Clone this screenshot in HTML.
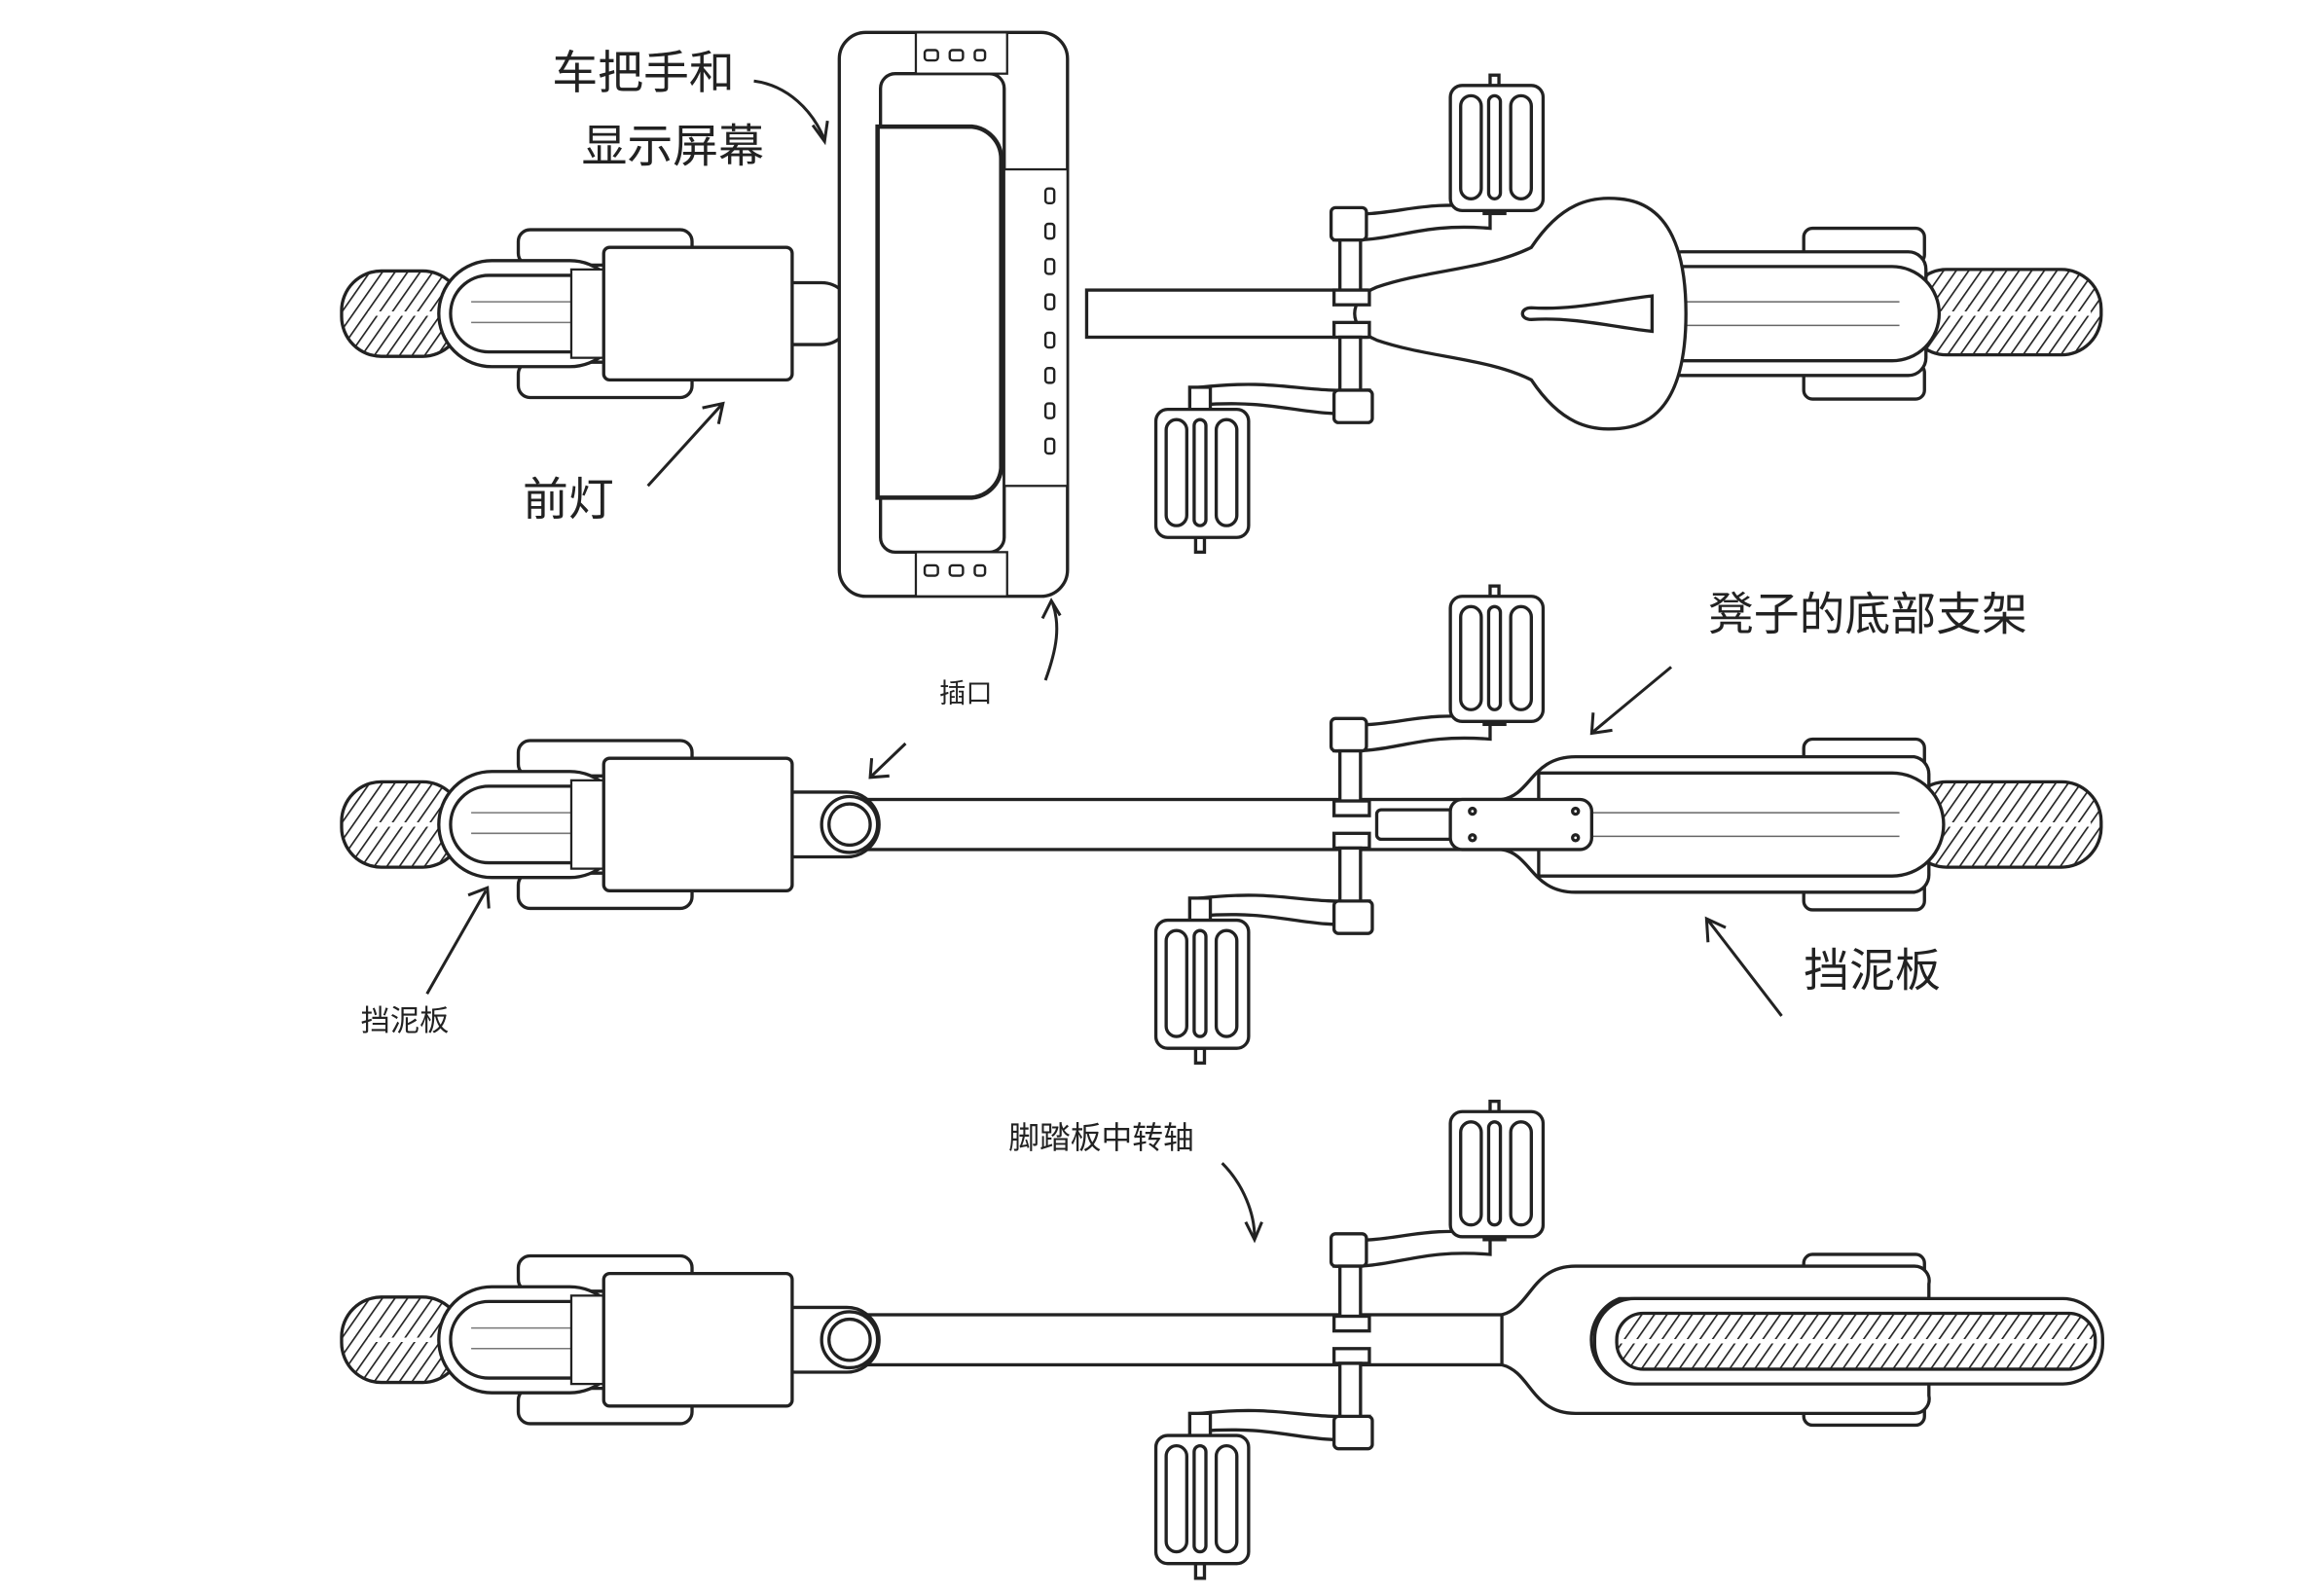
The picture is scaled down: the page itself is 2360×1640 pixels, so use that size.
<!DOCTYPE html>
<html><head><meta charset="utf-8"><style>
html,body{margin:0;padding:0;background:#fff;}
svg{display:block;}
text{font-family:"Liberation Sans","WenQuanYi Zen Hei","Noto Sans CJK SC",sans-serif;fill:#222;}
</style></head><body>
<svg width="2360" height="1640" viewBox="0 0 1560 1084" xmlns="http://www.w3.org/2000/svg">
<defs>
<pattern id="h" width="7" height="7" patternUnits="userSpaceOnUse" patternTransform="rotate(35)">
<rect width="7" height="7" fill="#fff"/><line x1="0" y1="0" x2="0" y2="7" stroke="#222" stroke-width="2.2"/>
</pattern>
<g id="front" fill="#fff" stroke="#222" stroke-width="2.2">
<rect x="232" y="-29" width="82" height="58" rx="27" fill="url(#h)"/>
<line x1="250" y1="0" x2="305" y2="0" stroke="#fff" stroke-width="3"/>
<rect x="352" y="-57" width="118" height="24" rx="8"/>
<rect x="352" y="33" width="118" height="24" rx="8"/>
<rect x="298" y="-36" width="125" height="72" rx="36"/>
<rect x="306" y="-26" width="110" height="52" rx="26"/>
<line x1="320" y1="-8" x2="410" y2="-8" stroke-width="1" stroke="#777"/>
<line x1="320" y1="6" x2="410" y2="6" stroke-width="1" stroke="#777"/>
<rect x="388" y="-30" width="22" height="60" stroke-width="1.5"/>
<rect x="410" y="-45" width="128" height="90" rx="4"/>
</g>
<g id="crank" fill="#fff" stroke="#222" stroke-width="2.2">
<path d="M906 -68 C950 -65 960 -78 1012 -72 L1012 -58 C960 -62 950 -48 906 -50 Z"/>
<rect x="904" y="-72" width="24" height="22" rx="3"/>
<rect x="910" y="-50" width="14" height="38"/>
<rect x="906" y="-16" width="24" height="10"/>
<rect x="906" y="6" width="24" height="10"/>
<rect x="910" y="16" width="14" height="40"/>
<path d="M930 52 C880 54 870 44 815 50 L815 62 C870 58 880 70 930 68 Z"/>
<rect x="906" y="52" width="26" height="22" rx="3"/>
<rect x="1008" y="-82" width="14" height="14"/>
<rect x="1012" y="-162" width="6" height="10"/>
<rect x="985" y="-155" width="63" height="85" rx="8"/>
<rect x="992" y="-148" width="14" height="70" rx="7"/>
<rect x="1011" y="-148" width="8" height="70" rx="4"/>
<rect x="1026" y="-148" width="14" height="70" rx="7"/>
<rect x="808" y="50" width="14" height="16"/>
<rect x="812" y="152" width="6" height="10"/>
<rect x="785" y="65" width="63" height="87" rx="8"/>
<rect x="792" y="72" width="14" height="72" rx="7"/>
<rect x="811" y="72" width="8" height="72" rx="4"/>
<rect x="826" y="72" width="14" height="72" rx="7"/>
</g>
</defs>

<!-- BIKE 1 -->
<g transform="translate(0,213)" fill="#fff" stroke="#222" stroke-width="2.2">
<rect x="1295" y="-30" width="132" height="58" rx="27" fill="url(#h)"/>
<line x1="1300" y1="0" x2="1420" y2="0" stroke="#fff" stroke-width="3"/>
<rect x="738" y="-16" width="190" height="32"/>
<rect x="1225" y="-58" width="82" height="24" rx="6"/>
<rect x="1225" y="34" width="82" height="24" rx="6"/>
<rect x="1130" y="-42" width="178" height="84" rx="12"/>
<path d="M1135 -32 H1285 A24 24 0 0 1 1285 32 H1135 Z"/>
<line x1="1140" y1="-8" x2="1290" y2="-8" stroke-width="1" stroke="#666"/>
<line x1="1140" y1="8" x2="1290" y2="8" stroke-width="1" stroke="#666"/>
<path d="M935 -18 C970 -30 1010 -30 1040 -45 C1060 -75 1080 -80 1100 -78 C1135 -75 1145 -40 1145 0 C1145 40 1135 75 1100 78 C1080 80 1060 75 1040 45 C1010 30 970 30 935 18 C915 10 915 -10 935 -18 Z"/>
<path d="M1040 -4 C1070 -2 1100 -10 1122 -12 L1122 12 C1100 10 1070 2 1040 4 C1032 4 1032 -4 1040 -4 Z"/>
<rect x="518" y="-21" width="60" height="42" rx="20"/>
</g>
<use href="#front" transform="translate(0,213)"/>
<use href="#crank" transform="translate(0,213)"/>
<g fill="#fff" stroke="#222" stroke-width="2.2">
<rect x="570" y="22" width="155" height="383" rx="18"/>
<rect x="598" y="50" width="84" height="325" rx="10"/>
<rect x="622" y="22" width="62" height="28" stroke-width="1.5"/>
<rect x="622" y="375" width="62" height="30" stroke-width="1.5"/>
<rect x="682" y="115" width="43" height="215" stroke-width="1.5"/>
<path d="M596 86 H660 A22 22 0 0 1 680 108 V318 A22 22 0 0 1 660 338 H596 Z" stroke-width="3"/>
</g>
<g fill="none" stroke="#222" stroke-width="1.6">
<rect x="628" y="34" width="9" height="7" rx="2"/><rect x="645" y="34" width="9" height="7" rx="2"/><rect x="662" y="34" width="7" height="7" rx="2"/>
<rect x="628" y="384" width="9" height="7" rx="2"/><rect x="645" y="384" width="9" height="7" rx="2"/><rect x="662" y="384" width="7" height="7" rx="2"/>
<rect x="710" y="128" width="6" height="10" rx="2"/><rect x="710" y="152" width="6" height="10" rx="2"/><rect x="710" y="176" width="6" height="10" rx="2"/><rect x="710" y="200" width="6" height="10" rx="2"/><rect x="710" y="226" width="6" height="10" rx="2"/><rect x="710" y="250" width="6" height="10" rx="2"/><rect x="710" y="274" width="6" height="10" rx="2"/><rect x="710" y="298" width="6" height="10" rx="2"/>
</g>

<!-- BIKE 2 -->
<g transform="translate(0,560)" fill="#fff" stroke="#222" stroke-width="2.2">
<rect x="1295" y="-29" width="132" height="58" rx="27" fill="url(#h)"/>
<line x1="1300" y1="0" x2="1420" y2="0" stroke="#fff" stroke-width="3"/>
<rect x="560" y="-17" width="500" height="34"/>
<rect x="1225" y="-58" width="82" height="24" rx="6"/>
<rect x="1225" y="34" width="82" height="24" rx="6"/>
<path d="M1020 -17 C1040 -20 1040 -46 1070 -46 H1300 A12 12 0 0 1 1310 -34 V34 A12 12 0 0 1 1300 46 H1070 C1040 46 1040 20 1020 17 Z"/>
<path d="M1045 -35 H1285 A26 26 0 0 1 1285 35 H1045 Z"/>
<line x1="1060" y1="-8" x2="1290" y2="-8" stroke-width="1" stroke="#666"/>
<line x1="1060" y1="8" x2="1290" y2="8" stroke-width="1" stroke="#666"/>
<rect x="935" y="-10" width="60" height="20" rx="3"/>
<rect x="985" y="-17" width="96" height="34" rx="8"/>
<circle cx="1000" cy="-9" r="2"/><circle cx="1000" cy="9" r="2"/><circle cx="1070" cy="-9" r="2"/><circle cx="1070" cy="9" r="2"/>
<path d="M540 -22 H575 A20 20 0 0 1 575 22 H540 A22 22 0 0 1 540 -22 Z"/>
<circle cx="577" cy="0" r="19"/><circle cx="577" cy="0" r="14"/>
</g>
<use href="#front" transform="translate(0,560)"/>
<use href="#crank" transform="translate(0,560)"/>

<!-- BIKE 3 -->
<g transform="translate(0,910)" fill="#fff" stroke="#222" stroke-width="2.2">
<rect x="560" y="-17" width="510" height="34"/>
<rect x="1225" y="-58" width="82" height="24" rx="6"/>
<rect x="1225" y="34" width="82" height="24" rx="6"/>
<path d="M1020 -17 C1040 -22 1040 -50 1070 -50 H1300 A10 10 0 0 1 1310 -38 L1310 -28 H1100 A30 30 0 0 0 1100 28 H1310 V38 A10 10 0 0 1 1300 50 H1070 C1040 50 1040 22 1020 17 Z"/>
<rect x="1083" y="-28" width="345" height="58" rx="27"/>
<rect x="1098" y="-18" width="325" height="38" rx="18" fill="url(#h)"/>
<line x1="1100" y1="1" x2="1420" y2="1" stroke="#fff" stroke-width="3"/>
<path d="M540 -22 H575 A20 20 0 0 1 575 22 H540 A22 22 0 0 1 540 -22 Z"/>
<circle cx="577" cy="0" r="19"/><circle cx="577" cy="0" r="14"/>
</g>
<use href="#front" transform="translate(0,910)"/>
<use href="#crank" transform="translate(0,910)"/>

<!-- arrows -->
<g fill="none" stroke="#222" stroke-width="2">
<path d="M512 55 C535 58 552 75 560 95"/><path d="M552 85 L560 96 L562 82"/>
<path d="M440 330 L490 275"/><path d="M477 277 L491 274 L488 288"/>
<path d="M710 462 C718 440 720 425 715 410"/><path d="M708 420 L714 408 L720 418"/>
<path d="M615 505 L592 527"/><path d="M592 515 L591 528 L604 527"/>
<path d="M1135 453 L1082 497"/><path d="M1082 484 L1081 498 L1095 496"/>
<path d="M1210 690 L1160 625"/><path d="M1160 640 L1159 624 L1172 630"/>
<path d="M290 675 L330 605"/><path d="M318 608 L331 603 L332 617"/>
<path d="M830 790 C845 805 852 825 852 840"/><path d="M846 830 L852 842 L857 830"/>
</g>

<!-- labels -->
<g font-size="31">
<text x="375" y="60">车把手和</text>
<text x="395" y="110">显示屏幕</text>
<text x="355" y="350">前灯</text>
<text x="1160" y="428">凳子的底部支架</text>
<text x="1225" y="670">挡泥板</text>
</g>
<text x="638" y="477" font-size="18">插口</text>
<text x="245" y="700" font-size="20">挡泥板</text>
<text x="685" y="780" font-size="21">脚踏板中转轴</text>
</svg>
</body></html>
